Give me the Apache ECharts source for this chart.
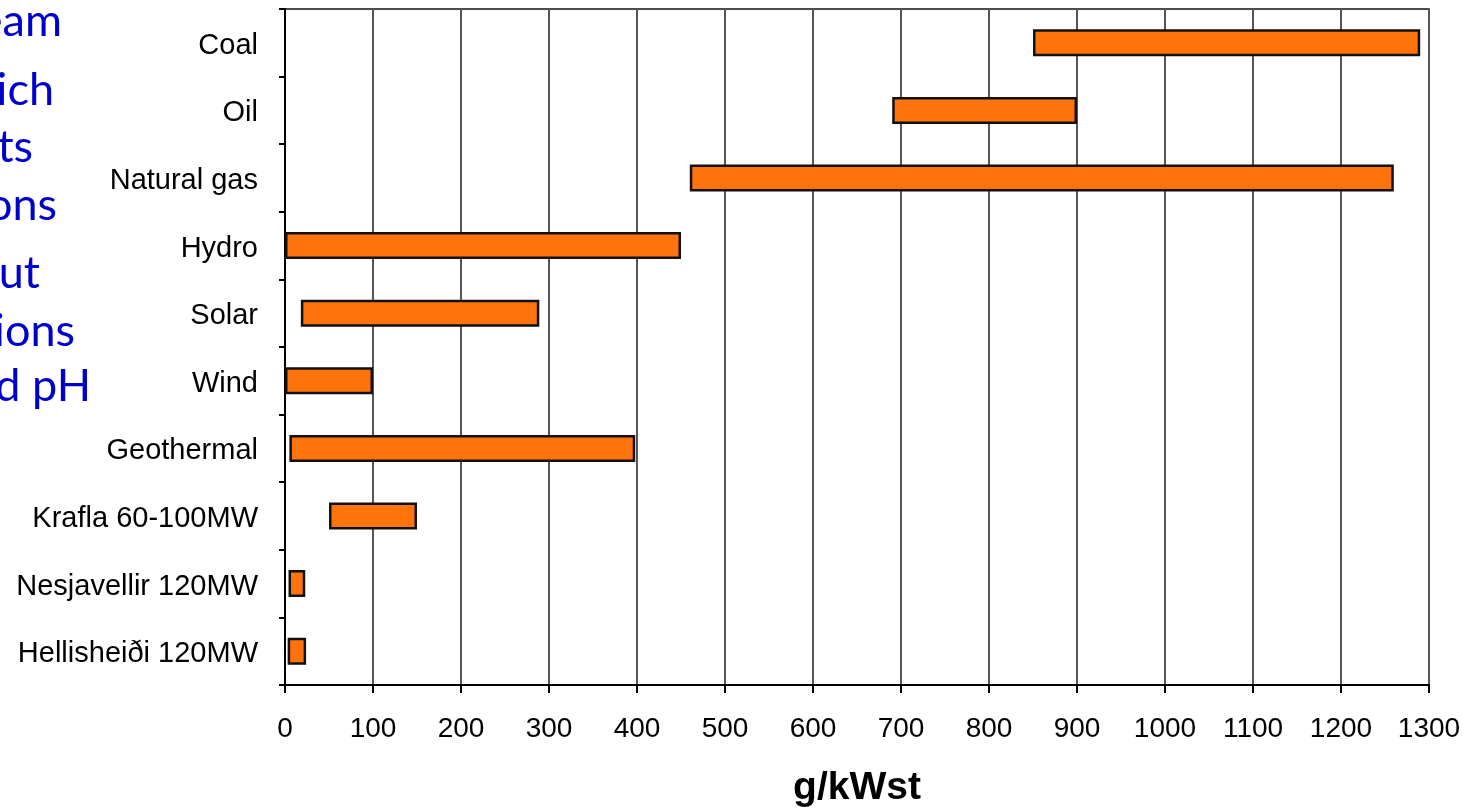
<!DOCTYPE html>
<html>
<head>
<meta charset="utf-8">
<script src="https://cdn.jsdelivr.net/npm/echarts@6/dist/echarts.min.js"></script>
<style>
  html, body { margin: 0; padding: 0; background: #ffffff; }
  #chart { width: 1472px; height: 808px; }
</style>
</head>
<body>
<div id="chart"></div>
<script>
// Emission ranges per power source, g/kWst (low and high end of each bar)
const categories = [
  'Coal', 'Oil', 'Natural gas', 'Hydro', 'Solar', 'Wind',
  'Geothermal', 'Krafla 60-100MW', 'Nesjavellir 120MW', 'Hellisheiði 120MW'
];
const lowValues  = [850, 690, 460,   0,  18,   0,   5,  50,  4,  3];
const highValues = [1290, 900, 1260, 450, 289, 100, 398, 150, 23, 24];
const xTicks = { min: 0, max: 1300, interval: 100 };
const axisTitle = 'g/kWst';

// Slide text running in from the left margin
const sideLines = ['eam', 'ich', 'ts', 'ons', 'ut', 'ions', 'od pH'];
const sideRight = [62, 54, 33, 57, 40, 75, 91];
const sideBaseline = [38, 107, 164, 222, 290, 348, 403];

const spans = highValues.map((h, i) => h - lowValues[i]);

const chart = echarts.init(document.getElementById('chart'), null, { renderer: 'canvas' });

const sideFont = 45;
const graphics = sideLines.map((t, i) => ({
  type: 'text',
  x: sideRight[i],
  y: sideBaseline[i] - sideFont * 0.36,
  silent: true,
  style: {
    text: t,
    fill: '#0000cc',
    font: sideFont + 'px Lato',
    textAlign: 'right',
    textVerticalAlign: 'middle'
  }
}));

chart.setOption({
  animation: false,
  backgroundColor: '#ffffff',
  graphic: graphics,
  grid: {
    left: 285, right: 43, top: 9, bottom: 123,
    outerBoundsMode: 'none',
    containLabel: false,
    show: true,
    borderColor: '#111',
    borderWidth: 1.5,
    backgroundColor: 'transparent'
  },
  xAxis: {
    type: 'value',
    min: xTicks.min,
    max: xTicks.max,
    interval: xTicks.interval,
    name: axisTitle,
    nameLocation: 'middle',
    nameGap: 84,
    nameTextStyle: {
      fontFamily: 'Liberation Sans',
      fontWeight: 'bold',
      fontSize: 39,
      color: '#000'
    },
    axisLine: { show: true, lineStyle: { color: '#000', width: 2 } },
    axisTick: { show: true, length: 8, lineStyle: { color: '#000', width: 2 } },
    axisLabel: {
      fontFamily: 'Liberation Sans',
      fontSize: 28,
      color: '#000',
      margin: 30,
      formatter: v => String(v)
    },
    splitLine: { show: true, lineStyle: { color: '#555', width: 2 } }
  },
  yAxis: {
    type: 'category',
    data: categories,
    inverse: true,
    axisLine: { show: true, lineStyle: { color: '#000', width: 2 } },
    axisTick: { show: true, length: 6, interval: 0, lineStyle: { color: '#000', width: 2 } },
    axisLabel: {
      fontFamily: 'Liberation Sans',
      fontSize: 29,
      color: '#000',
      margin: 27,
      interval: 0,
      verticalAlign: 'top',
      lineHeight: 6
    },
    splitLine: { show: false }
  },
  series: [
    {
      name: 'base',
      type: 'bar',
      stack: 'range',
      data: lowValues,
      barWidth: 27,
      itemStyle: { color: 'transparent', borderWidth: 0 },
      silent: true
    },
    {
      name: 'range',
      type: 'bar',
      stack: 'range',
      data: spans,
      barWidth: 27,
      itemStyle: { color: '#ff730d', borderColor: '#111', borderWidth: 2.5 }
    }
  ]
});
</script>
</body>
</html>
